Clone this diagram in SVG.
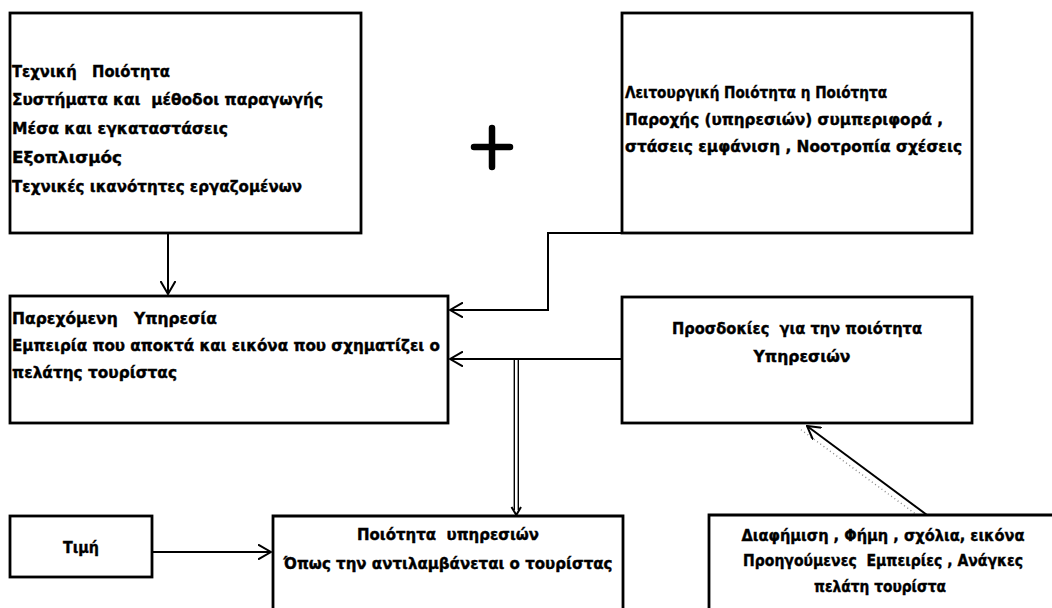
<svg xmlns="http://www.w3.org/2000/svg" width="1052" height="608" viewBox="0 0 1052 608">
<style>
.box{fill:#fff;stroke:#000;stroke-width:2.8}
.t{font-family:"DejaVu Sans","Liberation Sans",sans-serif;font-weight:bold;font-size:16px;fill:#000;stroke:#000;stroke-width:0.4;white-space:pre}
.m{text-anchor:middle}
.c{stroke:#000;stroke-width:2;fill:none}
.thin{stroke:#000;stroke-width:1.4;fill:none}
</style>
<defs>
<marker id="arr" viewBox="0 0 14 16" refX="13" refY="8" markerWidth="14" markerHeight="16" markerUnits="userSpaceOnUse" orient="auto">
<path d="M0,0.5 L13,8 L0,15.5" fill="none" stroke="#000" stroke-width="2"/>
</marker>
</defs>
<rect width="1052" height="608" fill="#fff"/>

<g id="connectors">
<line class="c" x1="168" y1="234" x2="168" y2="294" marker-end="url(#arr)"/>
<polyline class="c" points="647,233 548,233 548,310 450,310" marker-end="url(#arr)"/>
<line class="c" x1="622" y1="359" x2="450" y2="359" marker-end="url(#arr)"/>
<line class="thin" x1="514.3" y1="359" x2="514.3" y2="510"/>
<line class="thin" x1="518.3" y1="359" x2="518.3" y2="510"/>
<polyline class="c" points="511.5,507 516.3,515 521,507"/>
<line class="c" x1="152" y1="552" x2="271" y2="552" marker-end="url(#arr)"/>
<line x1="921" y1="518" x2="800" y2="429" stroke="#888" stroke-width="1.4" stroke-dasharray="1 3"/>
<line class="c" x1="927" y1="515" x2="807" y2="426" stroke-width="1.6" marker-end="url(#arr)"/>
</g>

<g id="plus">
<path d="M474,147 H510 M492,128 V167" stroke="#000" stroke-width="6.5" stroke-linecap="round" fill="none"/>
</g>

<g id="technical-quality">
<rect class="box" x="10" y="13" width="351" height="220"/>
<text class="t" x="12" y="77" textLength="158" lengthAdjust="spacingAndGlyphs">Τεχνική   Ποιότητα</text>
<text class="t" x="12" y="105" textLength="311" lengthAdjust="spacingAndGlyphs">Συστήματα και  μέθοδοι παραγωγής</text>
<text class="t" x="12" y="134" textLength="216" lengthAdjust="spacingAndGlyphs">Μέσα και εγκαταστάσεις</text>
<text class="t" x="12" y="163" textLength="110" lengthAdjust="spacingAndGlyphs">Εξοπλισμός</text>
<text class="t" x="12" y="192" textLength="290" lengthAdjust="spacingAndGlyphs">Τεχνικές ικανότητες εργαζομένων</text>
</g>

<g id="functional-quality">
<rect class="box" x="622" y="13" width="350" height="220"/>
<text class="t" x="625" y="98" textLength="262" lengthAdjust="spacingAndGlyphs">Λειτουργική Ποιότητα η Ποιότητα</text>
<text class="t" x="625" y="125" textLength="318" lengthAdjust="spacingAndGlyphs">Παροχής (υπηρεσιών) συμπεριφορά ,</text>
<text class="t" x="625" y="152" textLength="337" lengthAdjust="spacingAndGlyphs">στάσεις εμφάνιση , Νοοτροπία σχέσεις</text>
</g>

<g id="provided-service">
<rect class="box" x="10" y="296" width="438" height="127"/>
<text class="t" x="12" y="324" textLength="205" lengthAdjust="spacingAndGlyphs">Παρεχόμενη   Υπηρεσία</text>
<text class="t" x="12" y="351" textLength="428" lengthAdjust="spacingAndGlyphs">Εμπειρία που αποκτά και εικόνα που σχηματίζει ο</text>
<text class="t" x="12" y="378" textLength="165" lengthAdjust="spacingAndGlyphs">πελάτης τουρίστας</text>
</g>

<g id="expectations">
<rect class="box" x="622" y="297" width="350" height="126"/>
<text class="t m" x="797" y="334" textLength="250" lengthAdjust="spacingAndGlyphs">Προσδοκίες  για την ποιότητα</text>
<text class="t m" x="802" y="362" textLength="97" lengthAdjust="spacingAndGlyphs">Υπηρεσιών</text>
</g>

<g id="price">
<rect class="box" x="10" y="516" width="142" height="61"/>
<text class="t m" x="81" y="553" textLength="36" lengthAdjust="spacingAndGlyphs">Τιμή</text>
</g>

<g id="perceived-quality">
<path class="box" d="M273,608 V516 H623 V608"/>
<text class="t m" x="448" y="540" textLength="182" lengthAdjust="spacingAndGlyphs">Ποιότητα  υπηρεσιών</text>
<text class="t m" x="448" y="569" textLength="329" lengthAdjust="spacingAndGlyphs">Όπως την αντιλαμβάνεται ο τουρίστας</text>
</g>

<g id="influences">
<path class="box" d="M709,608 V515 H1052"/>
<text class="t m" x="883" y="541" textLength="283" lengthAdjust="spacingAndGlyphs">Διαφήμιση , Φήμη , σχόλια, εικόνα</text>
<text class="t m" x="883" y="566" textLength="280" lengthAdjust="spacingAndGlyphs">Προηγούμενες  Εμπειρίες , Ανάγκες</text>
<text class="t m" x="880" y="592" textLength="132" lengthAdjust="spacingAndGlyphs">πελάτη τουρίστα</text>
</g>
</svg>
